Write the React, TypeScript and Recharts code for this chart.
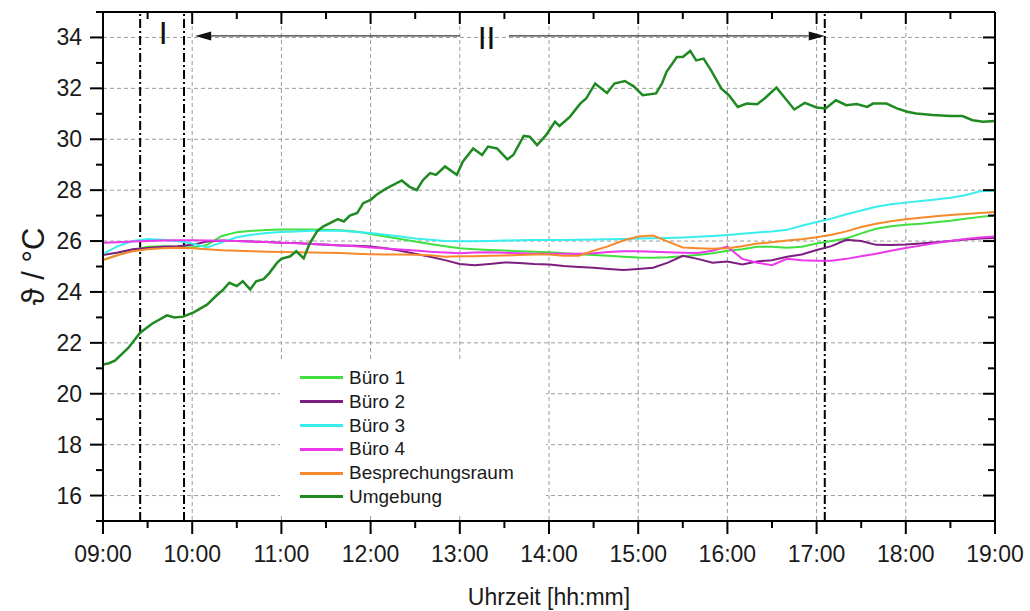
import React from 'react';
import {
  LineChart,
  Line,
  XAxis,
  YAxis,
  CartesianGrid,
  ReferenceLine,
  ReferenceDot,
  Legend,
} from 'recharts';

const FONT = '"Liberation Sans", Arial, Helvetica, sans-serif';

// Time axis in minutes after midnight (09:00 = 540, 19:00 = 1140)
const hourTicks = [540, 600, 660, 720, 780, 840, 900, 960, 1020, 1080, 1140];
const halfHourTicks = [
  540, 570, 600, 630, 660, 690, 720, 750, 780, 810, 840, 870, 900, 930, 960, 990, 1020, 1050,
  1080, 1110, 1140,
];
const tempMajorTicks = [16, 18, 20, 22, 24, 26, 28, 30, 32, 34];
const tempAllTicks = [15, 16, 17, 18, 19, 20, 21, 22, 23, 24, 25, 26, 27, 28, 29, 30, 31, 32, 33, 34, 35];

// Indoor measurements, every 10 minutes
const indoorTimes = [
  540, 550, 560, 570, 580, 590, 600, 610, 620, 630, 640, 650, 660, 670, 680, 690, 700, 710, 720,
  730, 740, 750, 760, 770, 780, 790, 800, 810, 820, 830, 840, 850, 860, 870, 880, 890, 900, 910,
  920, 930, 940, 950, 960, 970, 980, 990, 1000, 1010, 1020, 1030, 1040, 1050, 1060, 1070, 1080,
  1090, 1100, 1110, 1120, 1130, 1140,
];

const buero1 = [
  25.25, 25.45, 25.65, 25.78, 25.8, 25.78, 25.75, 25.85, 26.2, 26.35, 26.4, 26.43, 26.45, 26.45,
  26.45, 26.44, 26.42, 26.38, 26.28, 26.18, 26.08, 25.98, 25.88, 25.8, 25.72, 25.68, 25.65, 25.63,
  25.6, 25.58, 25.56, 25.52, 25.48, 25.45, 25.42, 25.38, 25.35, 25.34, 25.36, 25.4, 25.45, 25.52,
  25.62, 25.68, 25.78, 25.78, 25.74, 25.78, 25.9, 26.0, 26.1, 26.3, 26.48, 26.58, 26.64, 26.68,
  26.74, 26.8, 26.88, 26.95, 27.0,
];

const buero2 = [
  25.45, 25.55, 25.68, 25.73, 25.78, 25.8, 25.85, 25.98, 26.02, 26.0, 25.98, 25.96, 25.93, 25.92,
  25.88, 25.85, 25.83, 25.82, 25.79, 25.72, 25.62, 25.5, 25.38, 25.25, 25.1, 25.05, 25.1, 25.16,
  25.14, 25.1, 25.08, 25.02, 24.98, 24.95, 24.9, 24.86, 24.9, 24.95, 25.15, 25.42, 25.3, 25.15,
  25.2, 25.08, 25.2, 25.25, 25.38, 25.47, 25.65, 25.8, 26.05, 26.0, 25.85, 25.84, 25.86, 25.9,
  25.95, 26.0, 26.06, 26.1, 26.12,
];

const buero3 = [
  25.5, 25.8, 26.0, 26.08, 26.05, 26.0, 25.9, 25.75, 25.95, 26.15, 26.25, 26.32, 26.36, 26.38,
  26.4, 26.4, 26.4, 26.36, 26.32, 26.25, 26.18, 26.1, 26.05, 26.0, 25.99, 25.99, 26.0, 26.02,
  26.03, 26.04, 26.04, 26.04, 26.05, 26.06, 26.07, 26.08, 26.1, 26.11, 26.12, 26.14, 26.17, 26.2,
  26.24, 26.29, 26.34, 26.38, 26.44, 26.6, 26.75, 26.88, 27.05, 27.2, 27.35, 27.45, 27.51, 27.57,
  27.63, 27.7, 27.8, 27.96, 27.98,
];

const buero4 = [
  25.93, 25.95, 25.98, 26.0, 26.02, 26.03, 26.03, 26.02, 26.01, 26.0, 25.98, 25.96, 25.93, 25.91,
  25.88, 25.86, 25.83, 25.8, 25.75, 25.71, 25.67, 25.63, 25.58, 25.55, 25.52, 25.55, 25.56, 25.54,
  25.52, 25.5, 25.5, 25.5, 25.5, 25.52, 25.57, 25.6, 25.6, 25.58, 25.56, 25.54, 25.53, 25.62,
  25.78, 25.3, 25.15, 25.05, 25.3, 25.25, 25.23, 25.23, 25.3, 25.4, 25.5, 25.62, 25.73, 25.82,
  25.92, 26.0, 26.08, 26.14, 26.18,
];

const besprechung = [
  25.25, 25.45, 25.6, 25.68, 25.72, 25.74, 25.72, 25.68, 25.64, 25.62, 25.6, 25.58, 25.57, 25.56,
  25.55, 25.54, 25.53, 25.5, 25.48, 25.47, 25.47, 25.46, 25.44, 25.38, 25.4, 25.4, 25.42, 25.43,
  25.45, 25.47, 25.47, 25.42, 25.42, 25.62, 25.8, 26.02, 26.18, 26.22, 25.98, 25.75, 25.72, 25.7,
  25.72, 25.8, 25.9, 25.95, 26.02, 26.07, 26.15, 26.25, 26.38, 26.55, 26.68, 26.78, 26.86, 26.92,
  26.97, 27.02, 27.06, 27.1, 27.14,
];

// Outdoor temperature, irregular sampling
const umgebungTimes = [
  540, 544, 548, 557, 565, 573, 583, 588, 594, 601, 610, 616, 621, 625, 630, 634, 639, 643, 648,
  652, 657, 660, 666, 670, 675, 679, 684, 688, 693, 698, 702, 706, 711, 715, 720, 724, 729, 733,
  741, 746, 751, 755, 760, 764, 770, 778, 782, 789, 795, 799, 805, 812, 816, 823, 827, 832, 838,
  844, 847, 854, 861, 865, 871, 879, 884, 891, 897, 903, 912, 916, 919, 926, 930, 935, 939, 944,
  949, 956, 961, 967, 973, 980, 985, 993, 999, 1005, 1012, 1020, 1026, 1033, 1040, 1047, 1054,
  1058, 1067, 1074, 1081, 1087, 1098, 1110, 1118, 1125, 1132, 1140,
];
const umgebung = [
  21.15, 21.2, 21.3, 21.8, 22.4, 22.75, 23.08, 23.0, 23.03, 23.2, 23.5, 23.84, 24.1, 24.36, 24.23,
  24.42, 24.1, 24.42, 24.5, 24.75, 25.14, 25.3, 25.4, 25.6, 25.32, 25.9, 26.38, 26.57, 26.71,
  26.86, 26.77, 27.0, 27.1, 27.49, 27.62, 27.82, 28.01, 28.14, 28.38, 28.14, 28.0, 28.38, 28.67,
  28.6, 28.93, 28.6, 29.12, 29.64, 29.38, 29.71, 29.64, 29.21, 29.38, 30.13, 30.1, 29.77, 30.16,
  30.69, 30.52, 30.88, 31.4, 31.6, 32.19, 31.82, 32.19, 32.29, 32.08, 31.73, 31.8, 32.19, 32.64,
  33.23, 33.23, 33.47, 33.1, 33.17, 32.71, 31.99, 31.73, 31.27, 31.4, 31.38, 31.6, 32.03, 31.6,
  31.17, 31.43, 31.25, 31.21, 31.53, 31.34, 31.38, 31.27, 31.4, 31.4, 31.21, 31.08, 31.01, 30.95,
  30.91, 30.91, 30.75, 30.69, 30.72,
];

// Phase boundaries (minutes) and phase labels
const phaseMarks = [565, 594.5, 1025.5];
const phaseLabels = [
  { text: 'I', t: 580.5, v: 34.2 },
  { text: 'II', t: 798, v: 34.0 },
];
const phaseArrows = [
  { from: 780, to: 602, v: 34.06 },
  { from: 813, to: 1025.5, v: 34.06 },
];

const seriesInfo = [
  { key: 'b1', name: 'Büro 1', color: '#3fe03f', width: 2 },
  { key: 'b2', name: 'Büro 2', color: '#7d1d80', width: 2 },
  { key: 'b3', name: 'Büro 3', color: '#38eeee', width: 2 },
  { key: 'b4', name: 'Büro 4', color: '#ea38ea', width: 2 },
  { key: 'bs', name: 'Besprechungsraum', color: '#f58a2c', width: 2 },
  { key: 'u', name: 'Umgebung', color: '#1f8a22', width: 2.5 },
];

const indoorRows = indoorTimes.map((t, i) => ({
  t,
  b1: buero1[i],
  b2: buero2[i],
  b3: buero3[i],
  b4: buero4[i],
  bs: besprechung[i],
}));
const outdoorRows = umgebungTimes.map((t, i) => ({ t, u: umgebung[i] }));

const fmtHour = (m: number) => `${String(Math.floor(m / 60)).padStart(2, '0')}:00`;

const BottomTick = (p: any) => {
  const v = p.payload.value;
  const major = v % 60 === 0;
  return (
    <g>
      <line x1={p.x} y1={p.y} x2={p.x} y2={p.y + (major ? 13 : 7)} stroke="#000" strokeWidth={2} />
      {major && (
        <text x={p.x} y={p.y + 41} textAnchor="middle" fontSize={23} fill="#1a1a1a" fontFamily={FONT}>
          {fmtHour(v)}
        </text>
      )}
    </g>
  );
};

const TopTick = (p: any) => {
  const major = p.payload.value % 60 === 0;
  return <line x1={p.x} y1={p.y} x2={p.x} y2={p.y + (major ? 12 : 7)} stroke="#000" strokeWidth={2} />;
};

const LeftTick = (p: any) => {
  const v = p.payload.value;
  const major = v % 2 === 0;
  return (
    <g>
      <line x1={p.x} y1={p.y} x2={p.x - (major ? 13 : 7)} y2={p.y} stroke="#000" strokeWidth={2} />
      {major && (
        <text x={p.x - 21} y={p.y + 8} textAnchor="end" fontSize={23} fill="#1a1a1a" fontFamily={FONT}>
          {v}
        </text>
      )}
    </g>
  );
};

const RightTick = (p: any) => {
  const major = p.payload.value % 2 === 0;
  return <line x1={p.x} y1={p.y} x2={p.x - (major ? 12 : 7)} y2={p.y} stroke="#000" strokeWidth={2} />;
};

const ArrowShape = (p: any) => {
  const { x1, y1, x2, y2 } = p;
  const dir = x2 > x1 ? 1 : -1;
  const len = 16;
  const half = 4.5;
  return (
    <g>
      <line x1={x1} y1={y1} x2={x2 - dir * len} y2={y2} stroke="#333" strokeWidth={1.4} />
      <polygon
        points={`${x2},${y2} ${x2 - dir * len},${y2 - half} ${x2 - dir * len},${y2 + half}`}
        fill="#111"
      />
    </g>
  );
};

const YLabel = (p: any) => {
  const vb = p.viewBox || {};
  const cx = vb.x + vb.width - 70;
  const cy = vb.y + vb.height / 2;
  return (
    <text
      x={cx}
      y={cy}
      transform={`rotate(-90 ${cx} ${cy})`}
      textAnchor="middle"
      dominantBaseline="central"
      fontSize={31}
      fill="#1a1a1a"
      fontFamily={FONT}
    >
      ϑ / °C
    </text>
  );
};

const XLabel = (p: any) => {
  const vb = p.viewBox || {};
  return (
    <text
      x={vb.x + vb.width / 2}
      y={vb.y + 84}
      textAnchor="middle"
      fontSize={23}
      fill="#1a1a1a"
      fontFamily={FONT}
    >
      Uhrzeit [hh:mm]
    </text>
  );
};

const LegendBox = () => (
  <div
    style={{
      background: '#fff',
      width: 266,
      height: 154,
      paddingTop: 4,
      boxSizing: 'border-box',
      fontFamily: FONT,
      fontSize: 19,
      color: '#1a1a1a',
    }}
  >
    {seriesInfo.map((s) => (
      <div key={s.key} style={{ display: 'flex', alignItems: 'center', height: 23.8 }}>
        <div style={{ width: 20 }} />
        <div style={{ width: 43, height: 3, background: s.color }} />
        <div style={{ width: 6 }} />
        <span style={{ lineHeight: '23.8px', whiteSpace: 'nowrap' }}>{s.name}</span>
      </div>
    ))}
  </div>
);

export default function App() {
  return (
    <div style={{ position: 'absolute', left: 0, top: 0, width: 1030, height: 611, background: '#fff' }}>
      <LineChart
        width={1030}
        height={611}
        data={indoorRows}
        margin={{ top: 11, right: 34, bottom: 30, left: 0 }}
        style={{ fontFamily: FONT }}
      >
        <XAxis
          xAxisId="x"
          dataKey="t"
          type="number"
          domain={[540, 1140]}
          allowDataOverflow
          ticks={halfHourTicks}
          interval={0}
          height={60}
          tickSize={0}
          tickMargin={0}
          tickLine={false}
          tick={BottomTick}
          axisLine={{ stroke: '#000', strokeWidth: 2 }}
          label={{ content: XLabel }}
        />
        <XAxis
          xAxisId="top"
          orientation="top"
          dataKey="t"
          type="number"
          domain={[540, 1140]}
          allowDataOverflow
          ticks={halfHourTicks}
          interval={0}
          height={1}
          tickSize={0}
          tickMargin={0}
          tickLine={false}
          tick={TopTick}
          axisLine={{ stroke: '#000', strokeWidth: 2 }}
        />
        <YAxis
          yAxisId="y"
          type="number"
          domain={[15, 35]}
          allowDataOverflow
          ticks={tempAllTicks}
          interval={0}
          width={103}
          tickSize={0}
          tickMargin={0}
          tickLine={false}
          tick={LeftTick}
          axisLine={{ stroke: '#000', strokeWidth: 2 }}
          label={{ content: YLabel }}
        />
        <YAxis
          yAxisId="right"
          orientation="right"
          type="number"
          domain={[15, 35]}
          allowDataOverflow
          ticks={tempAllTicks}
          interval={0}
          width={1}
          tickSize={0}
          tickMargin={0}
          tickLine={false}
          tick={RightTick}
          axisLine={{ stroke: '#000', strokeWidth: 2 }}
        />
        {/* axes that only feed the dashed grid */}
        <XAxis
          xAxisId="grid"
          dataKey="t"
          type="number"
          domain={[540, 1140]}
          allowDataOverflow
          ticks={hourTicks}
          height={0}
          hide
        />
        <YAxis
          yAxisId="grid"
          type="number"
          domain={[15, 35]}
          allowDataOverflow
          ticks={tempMajorTicks}
          width={0}
          hide
        />
        <CartesianGrid
          xAxisId="grid"
          yAxisId="grid"
          stroke="#9c9c9c"
          strokeDasharray="4 3"
          strokeWidth={1}
        />

        {phaseMarks.map((m) => (
          <ReferenceLine
            key={m}
            xAxisId="x"
            yAxisId="y"
            x={m}
            stroke="#000"
            strokeWidth={2}
            strokeDasharray="9 3 2 3"
          />
        ))}
        {phaseArrows.map((a) => (
          <ReferenceLine
            key={a.from}
            xAxisId="x"
            yAxisId="y"
            segment={[
              { x: a.from, y: a.v },
              { x: a.to, y: a.v },
            ]}
            shape={ArrowShape}
          />
        ))}
        {phaseLabels.map((l) => (
          <ReferenceDot
            key={l.text}
            xAxisId="x"
            yAxisId="y"
            x={l.t}
            y={l.v}
            r={0}
            fill="none"
            stroke="none"
            label={{ value: l.text, position: 'center', fontSize: 32, fill: '#111', fontFamily: FONT }}
          />
        ))}

        {seriesInfo.slice(0, 5).map((s) => (
          <Line
            key={s.key}
            xAxisId="x"
            yAxisId="y"
            dataKey={s.key}
            name={s.name}
            stroke={s.color}
            strokeWidth={s.width}
            dot={false}
            activeDot={false}
            type="linear"
            isAnimationActive={false}
          />
        ))}
        <Line
          xAxisId="x"
          yAxisId="y"
          data={outdoorRows}
          dataKey="u"
          name="Umgebung"
          stroke="#1f8a22"
          strokeWidth={2.5}
          dot={false}
          activeDot={false}
          type="linear"
          isAnimationActive={false}
        />

        <Legend
          layout="vertical"
          align="center"
          verticalAlign="middle"
          wrapperStyle={{ left: 280, top: 362, width: 266, height: 154 }}
          content={LegendBox}
        />
      </LineChart>
    </div>
  );
}
